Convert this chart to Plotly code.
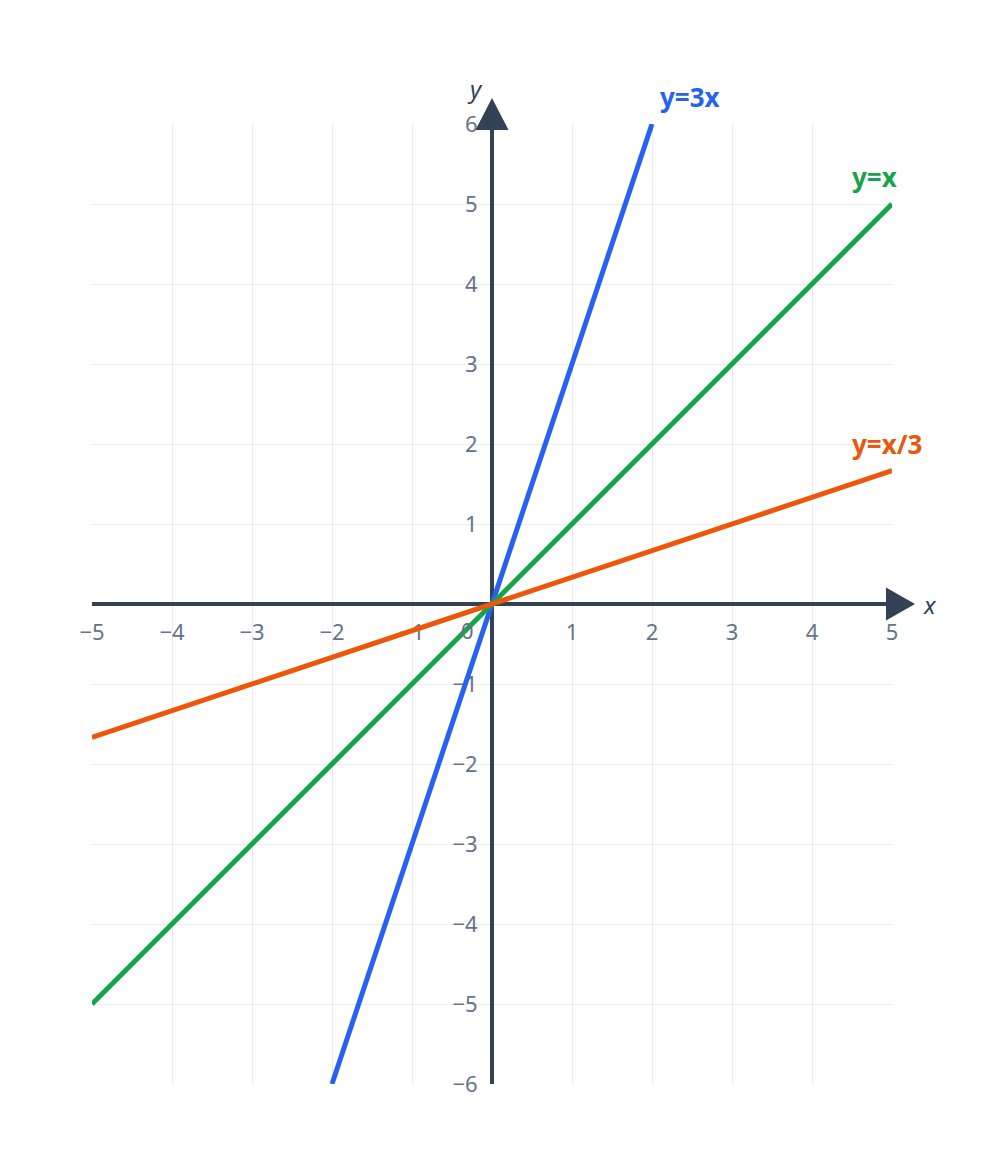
import plotly.graph_objects as go

# chart values
X_RANGE = [-5, 5]
Y_RANGE = [-6, 6]
TICKS_X = [-5, -4, -3, -2, -1, 1, 2, 3, 4, 5]
TICKS_Y = [-6, -5, -4, -3, -2, -1, 1, 2, 3, 4, 5, 6]

LINE_NAMES = ["y=3x", "y=x", "y=x/3"]
LINE_X = [[-2, 2], [-5, 5], [-5, 5]]
LINE_Y = [[-6, 6], [-5, 5], [-5 / 3, 5 / 3]]

COLORS = ["#2563eb", "#16a34a", "#ea580c"]
# label offsets (pixels) relative to the end of each line
LABEL_SHIFT = [(6, 7), (-42, 7), (-42, 7)]

AXIS_COLOR = "#334155"
TICK_COLOR = "#64748b"
GRID_COLOR = "#e9edf2"
FONT = "Noto Sans"


def paper_x(v):
    return (v - X_RANGE[0]) / (X_RANGE[1] - X_RANGE[0])


def paper_y(v):
    return (v - Y_RANGE[0]) / (Y_RANGE[1] - Y_RANGE[0])


fig = go.Figure()

for name, xs, ys, color, (dx, dy) in zip(LINE_NAMES, LINE_X, LINE_Y, COLORS, LABEL_SHIFT):
    fig.add_trace(
        go.Scatter(
            x=xs,
            y=ys,
            mode="lines",
            name=name,
            line=dict(color=color, width=5),
            showlegend=False,
            hoverinfo="skip",
        )
    )
    fig.add_annotation(
        x=xs[-1],
        y=ys[-1],
        text=f"<b>{name}</b>",
        showarrow=False,
        xanchor="left",
        yanchor="bottom",
        xshift=dx,
        yshift=dy,
        font=dict(family=FONT, size=26, color=color),
    )

# arrow heads at the ends of the axes (pixel sized, anchored at axis ends;
# paper refs so they are not clipped by the plot area)
fig.add_shape(
    type="path",
    xref="paper", yref="paper",
    xsizemode="pixel", ysizemode="pixel",
    xanchor=paper_x(0), yanchor=paper_y(Y_RANGE[1]),
    path="M-16.5,-6 L16.5,-6 L0,26 Z",
    fillcolor=AXIS_COLOR,
    line=dict(width=0),
)
fig.add_shape(
    type="path",
    xref="paper", yref="paper",
    xsizemode="pixel", ysizemode="pixel",
    xanchor=paper_x(X_RANGE[1]), yanchor=paper_y(0),
    path="M-6,-16.5 L-6,16.5 L23,0 Z",
    fillcolor=AXIS_COLOR,
    line=dict(width=0),
)

# axis names and origin label
fig.add_annotation(
    x=0, y=Y_RANGE[1], text="<i>y</i>", showarrow=False,
    xshift=-17, yshift=36, font=dict(family=FONT, size=24, color=AXIS_COLOR),
)
fig.add_annotation(
    x=X_RANGE[1], y=0, text="<i>x</i>", showarrow=False,
    xshift=38, yshift=0, font=dict(family=FONT, size=24, color=AXIS_COLOR),
)
fig.add_annotation(
    x=0, y=0, text="0", showarrow=False,
    xshift=-25, yshift=-26, font=dict(family=FONT, size=22, color=TICK_COLOR),
)

axis_common = dict(
    anchor="free",
    position=0.5,
    showline=True,
    linecolor=AXIS_COLOR,
    linewidth=4,
    showgrid=True,
    gridcolor=GRID_COLOR,
    gridwidth=1,
    zeroline=False,
    ticks="",
    ticklabelstandoff=8,
    tickfont=dict(family=FONT, size=22, color=TICK_COLOR),
    layer="below traces",
    fixedrange=True,
)

fig.update_xaxes(range=X_RANGE, tickvals=TICKS_X, **axis_common)
fig.update_yaxes(range=Y_RANGE, tickvals=TICKS_Y, **axis_common)

fig.update_layout(
    width=984,
    height=1176,
    margin=dict(l=84, r=100, t=116, b=100),
    plot_bgcolor="white",
    paper_bgcolor="white",
    font=dict(family=FONT),
)

fig.write_html("out.html")
